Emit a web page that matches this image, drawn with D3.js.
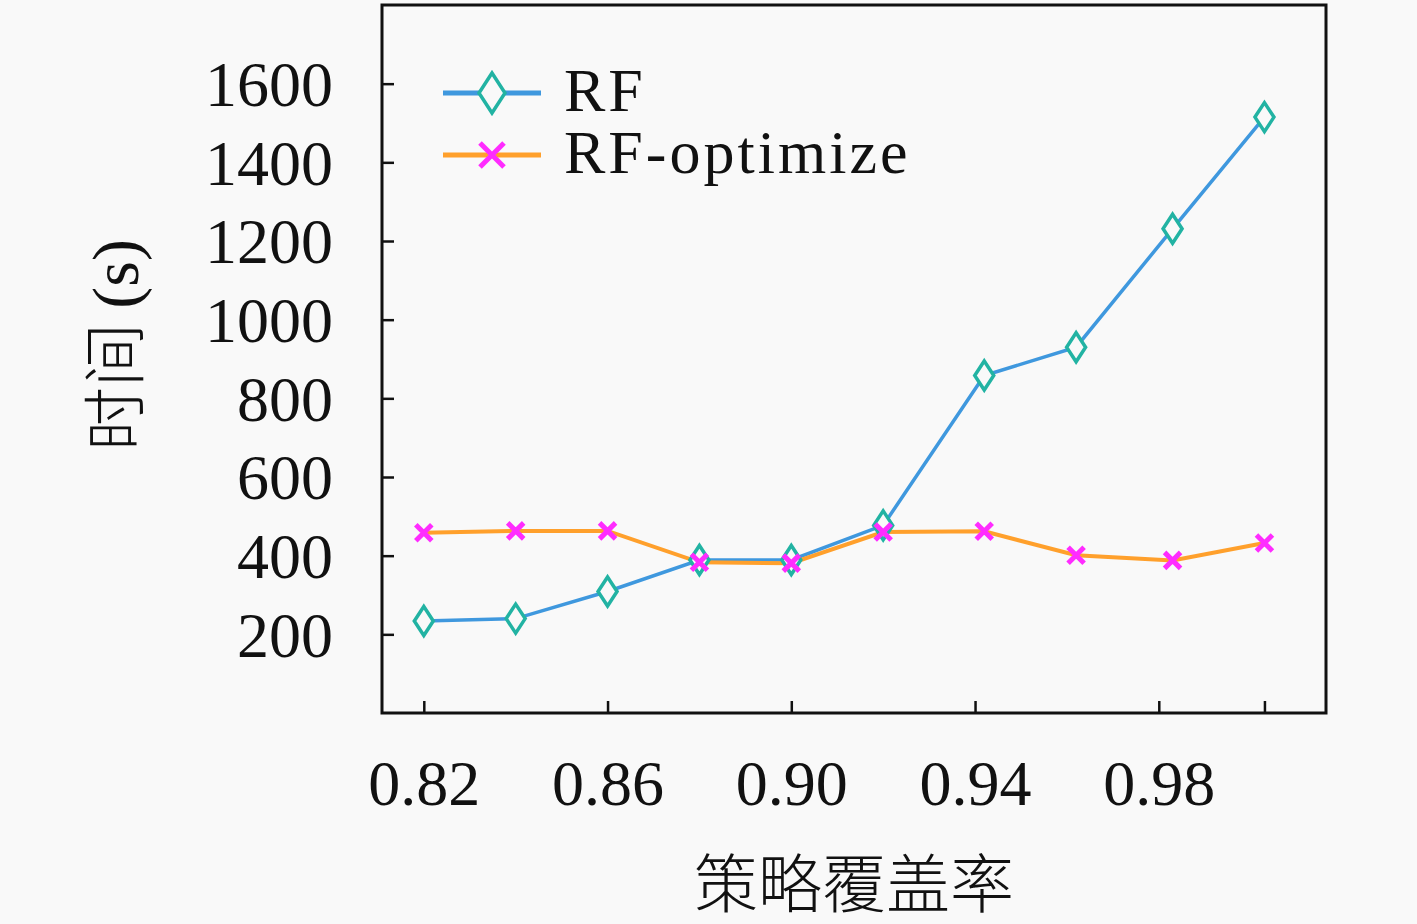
<!DOCTYPE html>
<html>
<head>
<meta charset="utf-8">
<script src="https://cdn.jsdelivr.net/npm/d3@7"></script>
<style>
  html, body { margin: 0; padding: 0; background: #f9f9f9; }
  svg { display: block; }
</style>
</head>
<body>
<div class="chart"></div>
<script>
// values
var coverage = [0.82, 0.84, 0.86, 0.88, 0.90, 0.92, 0.942, 0.962, 0.983, 1.003];
var rfTime = [234, 240, 309, 389, 389, 477, 858, 930, 1231, 1515];
var rfOptTime = [458, 463, 463, 383, 381, 460, 462, 401, 388, 432];
var seriesNames = ["RF", "RF-optimize"];
var xTicks = [0.82, 0.86, 0.90, 0.94, 0.98, 1.003];
var xTickLabels = ["0.82", "0.86", "0.90", "0.94", "0.98", ""];
var yTicks = [200, 400, 600, 800, 1000, 1200, 1400, 1600];

var svg = d3.select(".chart").append("svg").attr("width", 1417).attr("height", 924),
    margin = {top: 5, right: 91, bottom: 211, left: 382},
    width = 1417 - margin.left - margin.right,
    height = 924 - margin.top - margin.bottom,
    serif = "'Liberation Serif', 'DejaVu Serif', serif",
    cjk = "'Noto Sans CJK SC', sans-serif";

// 0.82 -> 424px, 0.98 -> 1159px on the page
var x = d3.scaleLinear().domain([0.8109, 1.0164]).range([0, width]);
var y = d3.scaleLinear().domain([0, 1800]).range([height, 0]);

var g = svg.append("g").attr("transform", `translate(${margin.left},${margin.top})`);

// axes, ticks pointing inward
var xAxis = g.append("g")
    .attr("transform", `translate(0,${height})`)
    .call(d3.axisBottom(x).tickValues(xTicks).tickSize(-12).tickPadding(0)
      .tickFormat((d, i) => xTickLabels[i]));
var yAxis = g.append("g")
    .call(d3.axisLeft(y).tickValues(yTicks).tickSize(-12).tickPadding(0)
      .tickFormat(d3.format("d")));

[xAxis, yAxis].forEach(a => {
  a.select(".domain").remove();
  a.selectAll(".tick line").attr("stroke", "#111").attr("stroke-width", 2.5);
  a.selectAll(".tick text").attr("fill", "#111")
    .style("font-family", serif).style("font-size", "64px");
});
xAxis.selectAll(".tick text").attr("y", 70).attr("dy", "0.34em");
yAxis.selectAll(".tick text").attr("x", -49).attr("dy", "0.34em");

// frame
g.append("rect")
    .attr("width", width).attr("height", height)
    .attr("fill", "none").attr("stroke", "#111").attr("stroke-width", 3);

var line = d3.line().x(d => x(d[0])).y(d => y(d[1]));
var rfData = coverage.map((c, i) => [c, rfTime[i]]);
var optData = coverage.map((c, i) => [c, rfOptTime[i]]);

function diamond(sel, w, h) {
  sel.append("path")
    .attr("d", `M0,${-h / 2}L${w / 2},0L0,${h / 2}L${-w / 2},0Z`)
    .attr("fill", "#f9f9f9").attr("stroke", "#22b3a3").attr("stroke-width", 3.5);
}
function cross(sel, s) {
  sel.append("path")
    .attr("d", `M${-s},${-s}L${s},${s}M${-s},${s}L${s},${-s}`)
    .attr("stroke", "#ff2cff").attr("stroke-width", 5).attr("fill", "none");
}

g.append("path").datum(rfData)
    .attr("d", line).attr("fill", "none")
    .attr("stroke", "#3f98de").attr("stroke-width", 3.5);
g.append("path").datum(optData)
    .attr("d", line).attr("fill", "none")
    .attr("stroke", "#ffa02c").attr("stroke-width", 4);

g.selectAll(".rf-pt").data(rfData).enter().append("g")
    .attr("class", "rf-pt")
    .attr("transform", d => `translate(${x(d[0])},${y(d[1])})`)
    .each(function () { diamond(d3.select(this), 19, 29); });
g.selectAll(".opt-pt").data(optData).enter().append("g")
    .attr("class", "opt-pt")
    .attr("transform", d => `translate(${x(d[0])},${y(d[1])})`)
    .each(function () { cross(d3.select(this), 8); });

// legend
var legend = svg.append("g");
var rows = [{y: 93, c: "#3f98de"}, {y: 155, c: "#ffa02c"}];
rows.forEach((r, i) => {
  legend.append("line")
      .attr("x1", 443).attr("x2", 541).attr("y1", r.y).attr("y2", r.y)
      .attr("stroke", r.c).attr("stroke-width", 5);
  var m = legend.append("g").attr("transform", `translate(492,${r.y})`);
  if (i === 0) diamond(m, 26, 40); else cross(m, 12);
  legend.append("text")
      .attr("x", 564).attr("y", r.y - 3).attr("dy", "0.34em")
      .style("font-family", serif).style("font-size", "62px")
      .style("letter-spacing", "3px").attr("fill", "#111")
      .text(seriesNames[i]);
});

// axis titles
svg.append("text")
    .attr("x", 854).attr("y", 884).attr("dy", "0.36em")
    .attr("text-anchor", "middle").attr("fill", "#111")
    .style("font-family", cjk).style("font-size", "64px").style("font-weight", 300)
    .text("策略覆盖率");

var yt = svg.append("text")
    .attr("transform", "translate(132,345) rotate(-90)")
    .attr("text-anchor", "middle").attr("dy", "0.36em").attr("fill", "#111");
yt.append("tspan").style("font-family", cjk).style("font-size", "64px")
    .style("font-weight", 300).text("时间 ");
yt.append("tspan").style("font-family", serif).style("font-size", "66px").text("(s)");
</script>
</body>
</html>
